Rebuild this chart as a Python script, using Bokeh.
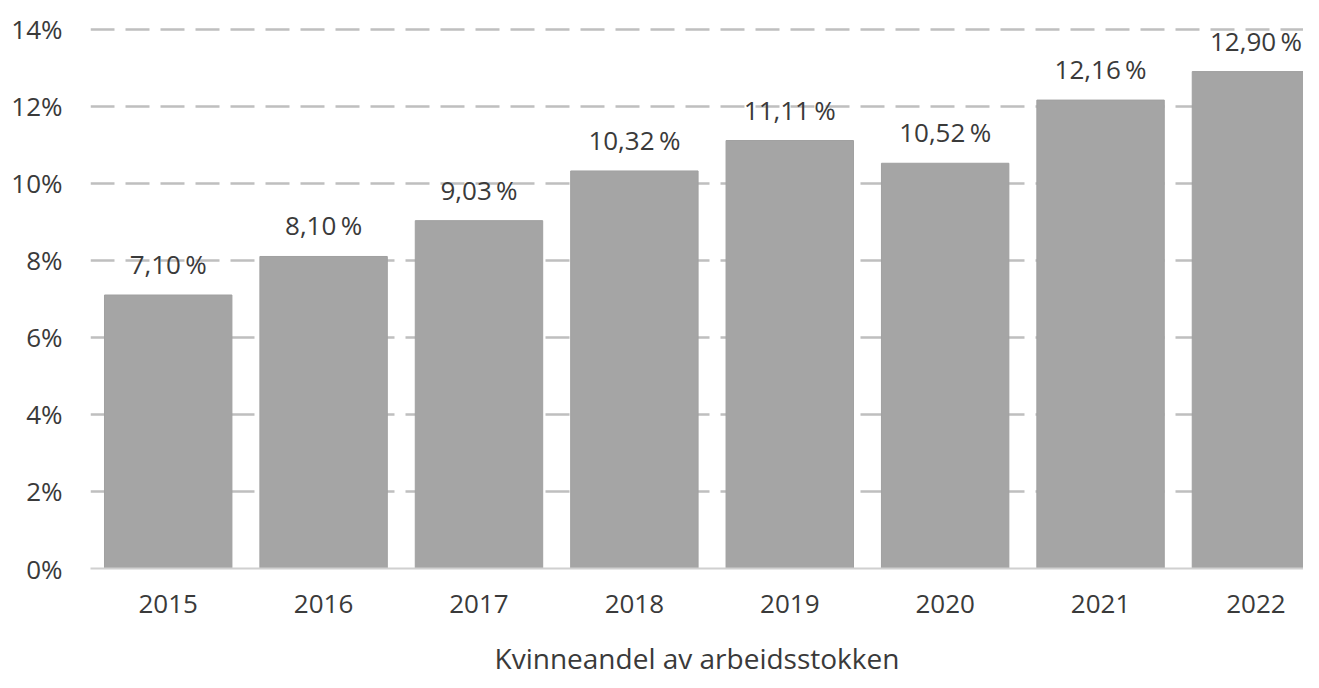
from bokeh.plotting import figure
from bokeh.models import Range1d, FixedTicker, PrintfTickFormatter, ColumnDataSource
from bokeh.embed import file_html
from bokeh.resources import INLINE
from bokeh.core.properties import value

years = ["2015", "2016", "2017", "2018", "2019", "2020", "2021", "2022"]
shares = [7.10, 8.10, 9.03, 10.32, 11.11, 10.52, 12.16, 12.90]
y_ticks = [0, 2, 4, 6, 8, 10, 12, 14]
x_title = "Kvinneandel av arbeidsstokken"

xs = list(range(len(years)))
labels = [f"{v:.2f}".replace(".", ",") + "\u2009%" for v in shares]
src = ColumnDataSource(dict(x=xs, top=shares, label=labels))

FONT = "Open Sans"
TXT = "#3A3A3A"

p = figure(width=1303, height=672, output_backend="svg", toolbar_location=None,
           x_range=Range1d(-0.5, 7.306), y_range=Range1d(0, 14.2),
           min_border_left=90, min_border_right=0, min_border_top=21, min_border_bottom=104)
p.frame_height = 547
p.outline_line_color = None
p.background_fill_color = "white"

p.vbar(x="x", top="top", width=0.82, source=src, fill_color="#A5A5A5", line_color="#A0A0A0", line_width=1)
p.text(x="x", y="top", text="label", source=src, text_align="center", text_baseline="bottom",
       y_offset=-13, text_font=value(FONT), text_font_size="26px", text_color=TXT)

p.xgrid.visible = False
p.ygrid.grid_line_color = "#BFBFBF"
p.ygrid.grid_line_width = 2.5
p.ygrid.grid_line_dash = "24 11"

p.yaxis.ticker = FixedTicker(ticks=y_ticks)
p.yaxis.formatter = PrintfTickFormatter(format="%d%%")
p.yaxis.axis_line_color = None
p.yaxis.major_tick_line_color = None
p.yaxis.minor_tick_line_color = None
p.yaxis.major_label_standoff = 22
p.yaxis.major_label_text_font = FONT
p.yaxis.major_label_text_font_size = "26px"
p.yaxis.major_label_text_color = TXT

p.xaxis.ticker = FixedTicker(ticks=xs)
p.xaxis.major_label_overrides = {i: y for i, y in zip(xs, years)}
p.xaxis.axis_line_color = "#D0D0D0"
p.xaxis.axis_line_width = 2
p.xaxis.major_tick_line_color = None
p.xaxis.minor_tick_line_color = None
p.xaxis.major_label_standoff = 20
p.xaxis.major_label_text_font = FONT
p.xaxis.major_label_text_font_size = "26px"
p.xaxis.major_label_text_color = TXT
p.xaxis.axis_label = x_title
p.xaxis.axis_label_standoff = 23
p.xaxis.axis_label_text_font = FONT
p.xaxis.axis_label_text_font_size = "28px"
p.xaxis.axis_label_text_font_style = "normal"
p.xaxis.axis_label_text_color = TXT

open("out.html", "w").write(file_html(p, INLINE))
